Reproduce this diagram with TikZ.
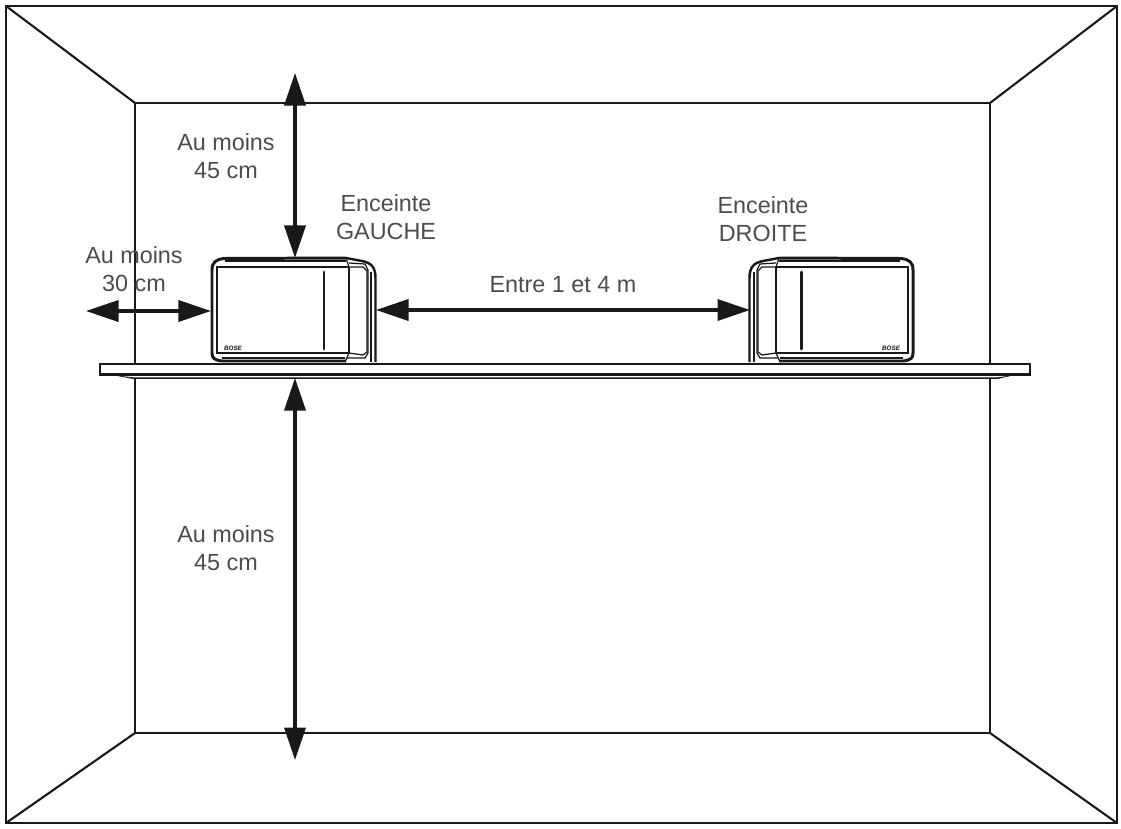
\documentclass[tikz,border=0pt]{standalone}
\usepackage{fontspec}
\setmainfont{Liberation Sans}
\usetikzlibrary{arrows.meta}

\definecolor{inkline}{gray}{0.1}
\definecolor{inktext}{gray}{0.3}

\tikzset{
    wall/.style={draw=inkline, line width=1.2pt},
    label/.style={text=inktext, font=\fontsize{13.3pt}{16pt}\selectfont, align=center, inner sep=0pt},
    gap/.style={draw=inkline, line width=1.9pt, {Triangle[length=18.5pt,width=12pt]}-{Triangle[length=18.5pt,width=12pt]}},
    logo/.style={text=inkline, font=\fontsize{3.6pt}{4pt}\selectfont\bfseries\itshape, inner sep=0pt},
    speaker/.pic={
        % Cabinet
        \fill[white] (211,270) .. controls (211,262) and (216,260) .. (224,259) -- (340,258)
            -- (362,262) .. controls (372,264) and (376,268) .. (376,278) -- (376,362) -- (211,362) -- cycle;
        \draw[inkline, line width=1.7pt, line join=round] (346,258) -- (224,258.5) .. controls (216,259.5) and (212,262) .. (212,270)
            -- (212,353) .. controls (212,358) and (214,360) .. (222,361) -- (346,361);
        \draw[inkline, line width=1.4pt] (346,258) -- (362,261) .. controls (372,263) and (375.5,268) .. (375.5,278) -- (375.5,362);
        \draw[inkline, line width=0.7pt] (222,358) -- (345,358);
        \draw[inkline, line width=0.7pt] (225,261) -- (346,261);
        \draw[inkline, line width=0.7pt] (371,272) -- (371,362);
        % Front panel
        \draw[inkline, line width=1.1pt] (349,267) -- (217,267) -- (217,353) -- (349,353);
        \draw[inkline, line width=0.7pt] (349,267) -- (349,353);
        % End cap
        \draw[inkline, line width=0.7pt] (346,258) -- (349,267) -- (363,267) -- (367,271) -- (367,352) -- (363,355) -- (349,353) -- (345,362);
        \draw[inkline, line width=0.7pt] (349,263) -- (365,264) -- (368,270) -- (368,353) -- (365,358) -- (347,358);
        % Bar
        \draw[inkline, line width=1.7pt, line cap=round] (324,272) -- (324,349);
    }
}

\begin{document}
\begin{tikzpicture}[x=0.02cm, y=-0.02cm]
    \useasboundingbox (0,0) rectangle (1121,828);

    % Room
    \coordinate (outerNW) at (6,6);
    \coordinate (outerNE) at (1117,6);
    \coordinate (outerSE) at (1117,823);
    \coordinate (outerSW) at (6,823);
    \coordinate (backNW) at (135,103);
    \coordinate (backNE) at (990,103);
    \coordinate (backSE) at (990,733);
    \coordinate (backSW) at (135,733);
    \draw[wall] (outerNW) -- (outerNE) -- (outerSE) -- (outerSW) -- cycle;
    \draw[wall] (backNW) -- (backNE) -- (backSE) -- (backSW) -- cycle;
    \draw[wall] (outerNW) -- (backNW);
    \draw[wall] (outerNE) -- (backNE);
    \draw[wall] (outerSE) -- (backSE);
    \draw[wall] (outerSW) -- (backSW);

    % Shelf
    \fill[white] (100,363) rectangle (1030,378);
    \draw[wall] (100,364) rectangle (1030,374.5);
    \fill[inkline] (112,375) -- (133,377.3) -- (998,377.3) -- (1015,375) -- (998,378.9) -- (133,378.9) -- cycle;

    % Left speaker
    \pic at (0,0) {speaker};
    \node[logo] (logoLeft) at (233,348) {BOSE};

    % Right speaker, mirrored
    \pic[xscale=-1] at (1125,0) {speaker};
    \node[logo] (logoRight) at (891,348) {BOSE};

    % Arrow ends
    \coordinate (ceilingEnd) at (295,73);
    \coordinate (leftTop) at (295,258);
    \coordinate (shelfUnder) at (295,378);
    \coordinate (floorEnd) at (295,760);
    \coordinate (sideEnd) at (86,311);
    \coordinate (leftSide) at (211,311);
    \coordinate (leftInner) at (376,310);
    \coordinate (rightInner) at (750,310);

    % Distances
    \draw[gap] (ceilingEnd) -- (leftTop);
    \draw[gap] (shelfUnder) -- (floorEnd);
    \draw[gap] (sideEnd) -- (leftSide);
    \draw[gap] (leftInner) -- (rightInner);

    % Labels
    \node[label] (aboveText) at (226,156) {Au moins\\45 cm};
    \node[label] (belowText) at (226,548) {Au moins\\45 cm};
    \node[label] (sideText) at (134,269) {Au moins\\30 cm};
    \node[label] (leftName) at (386,217) {Enceinte\\GAUCHE};
    \node[label] (rightName) at (763,219) {Enceinte\\DROITE};
    \node[label] (betweenText) at (563,285) {Entre 1 et 4 m};
\end{tikzpicture}
\end{document}
